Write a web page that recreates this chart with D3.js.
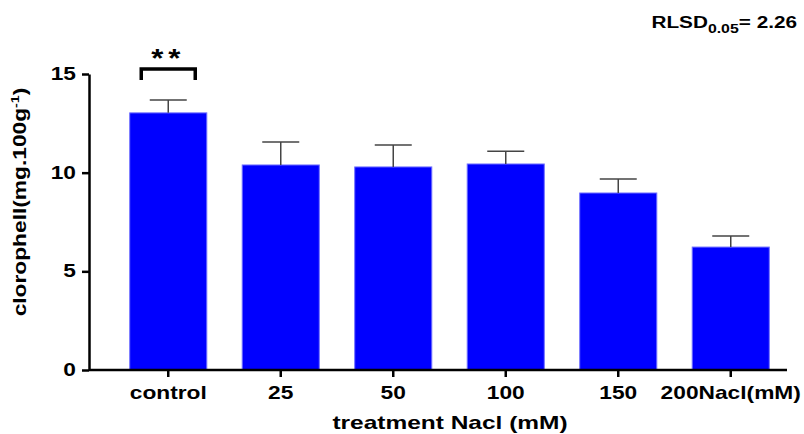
<!DOCTYPE html>
<html>
<head>
<meta charset="utf-8">
<script src="https://cdn.jsdelivr.net/npm/d3@7"></script>
<style>
  body { margin: 0; background: #fff; }
  text { font-family: Arial, "Liberation Sans", sans-serif; font-weight: bold; fill: #000; }
</style>
</head>
<body>
<svg id="chart" width="804" height="434"></svg>
<script>
// data
let categories = ["control", "25", "50", "100", "150", "200Nacl(mM)"];
let means = [13.03, 10.39, 10.29, 10.44, 8.97, 6.23];
let errors = [0.65, 1.17, 1.11, 0.64, 0.71, 0.56];
let yTicks = [0, 5, 10, 15];

let svg = d3.select("#chart");

// the source font is a wide bold sans, so stretch Arial sideways
let stretch = 1.3;

// scales
let xScale = d3.scaleBand()
  .domain(categories)
  .range([112, 787])
  .paddingInner(0.315)
  .paddingOuter(0.1575);

let yScale = d3.scaleLinear()
  .domain([0, 15])
  .range([370, 74]);

// bars
svg.selectAll("rect.bar")
  .data(means)
  .enter()
  .append("rect")
    .attr("class", "bar")
    .attr("x", (d, i) => xScale(categories[i]))
    .attr("y", d => yScale(d))
    .attr("width", xScale.bandwidth())
    .attr("height", d => yScale(0) - yScale(d))
    .style("fill", "#0000ff")
    .style("stroke", "#7070ff")
    .style("stroke-width", 1);

// error bars (upper only)
let errG = svg.append("g").attr("stroke", "#444").attr("stroke-width", 1.5);
means.forEach(function(d, i) {
  let cx = xScale(categories[i]) + xScale.bandwidth() / 2;
  let top = yScale(d + errors[i]);
  errG.append("line")
    .attr("x1", cx).attr("x2", cx)
    .attr("y1", yScale(d)).attr("y2", top);
  errG.append("line")
    .attr("x1", cx - 18.5).attr("x2", cx + 18.5)
    .attr("y1", top).attr("y2", top);
});

// y axis
let yAxis = d3.axisLeft(yScale)
  .tickValues(yTicks)
  .tickSize(7)
  .tickSizeOuter(0);
let yG = svg.append("g")
  .attr("transform", "translate(89,0)")
  .call(yAxis);
yG.select(".domain").attr("stroke-width", 2.5).attr("stroke", "#000");
yG.selectAll(".tick line").attr("stroke-width", 2.5).attr("stroke", "#000");
yG.selectAll(".tick text")
  .attr("x", 0)
  .attr("transform", `translate(-13,0) scale(${stretch},1)`)
  .style("font-size", "17.5px");

// x axis
let xAxis = d3.axisBottom(xScale)
  .tickSize(7)
  .tickPadding(10)
  .tickSizeOuter(0);
let xG = svg.append("g")
  .attr("transform", "translate(0,370)")
  .call(xAxis);
xG.select(".domain").attr("d", "M89,0H787").attr("stroke-width", 2.5).attr("stroke", "#000");
xG.selectAll(".tick line").attr("stroke-width", 2.5).attr("stroke", "#000");
xG.selectAll(".tick text")
  .attr("transform", `scale(${stretch},1)`)
  .style("font-size", "17.5px");

// axis titles
svg.append("text")
  .attr("transform", `translate(450,429) scale(1.36,1)`)
  .attr("text-anchor", "middle")
  .style("font-size", "18px")
  .text("treatment Nacl (mM)");

let yLabel = svg.append("text")
  .attr("transform", `translate(26,202) rotate(-90) scale(${stretch},1)`)
  .attr("text-anchor", "middle")
  .style("font-size", "17.5px");
yLabel.append("tspan").text("clorophell(mg.100g");
yLabel.append("tspan").attr("dy", -7).style("font-size", "11px").text("-1");
yLabel.append("tspan").attr("dy", 7).text(")");

// significance bracket
let cx0 = xScale(categories[0]) + xScale.bandwidth() / 2;
svg.append("path")
  .attr("d", `M${cx0 - 27},${80} V${69} H${cx0 + 27} V${80}`)
  .attr("fill", "none")
  .attr("stroke", "#000")
  .attr("stroke-width", 3.5);
svg.append("text")
  .attr("transform", `translate(${cx0},67) scale(1.2,1)`)
  .attr("text-anchor", "middle")
  .style("font-size", "26px")
  .style("letter-spacing", "4px")
  .text("**");

// RLSD note
let note = svg.append("text")
  .attr("transform", `translate(797,28) scale(1.22,1)`)
  .attr("text-anchor", "end")
  .style("font-size", "17px");
note.append("tspan").text("RLSD");
note.append("tspan").attr("dy", 5).style("font-size", "13px").text("0.05");
note.append("tspan").attr("dy", -5).text("= 2.26");
</script>
</body>
</html>
